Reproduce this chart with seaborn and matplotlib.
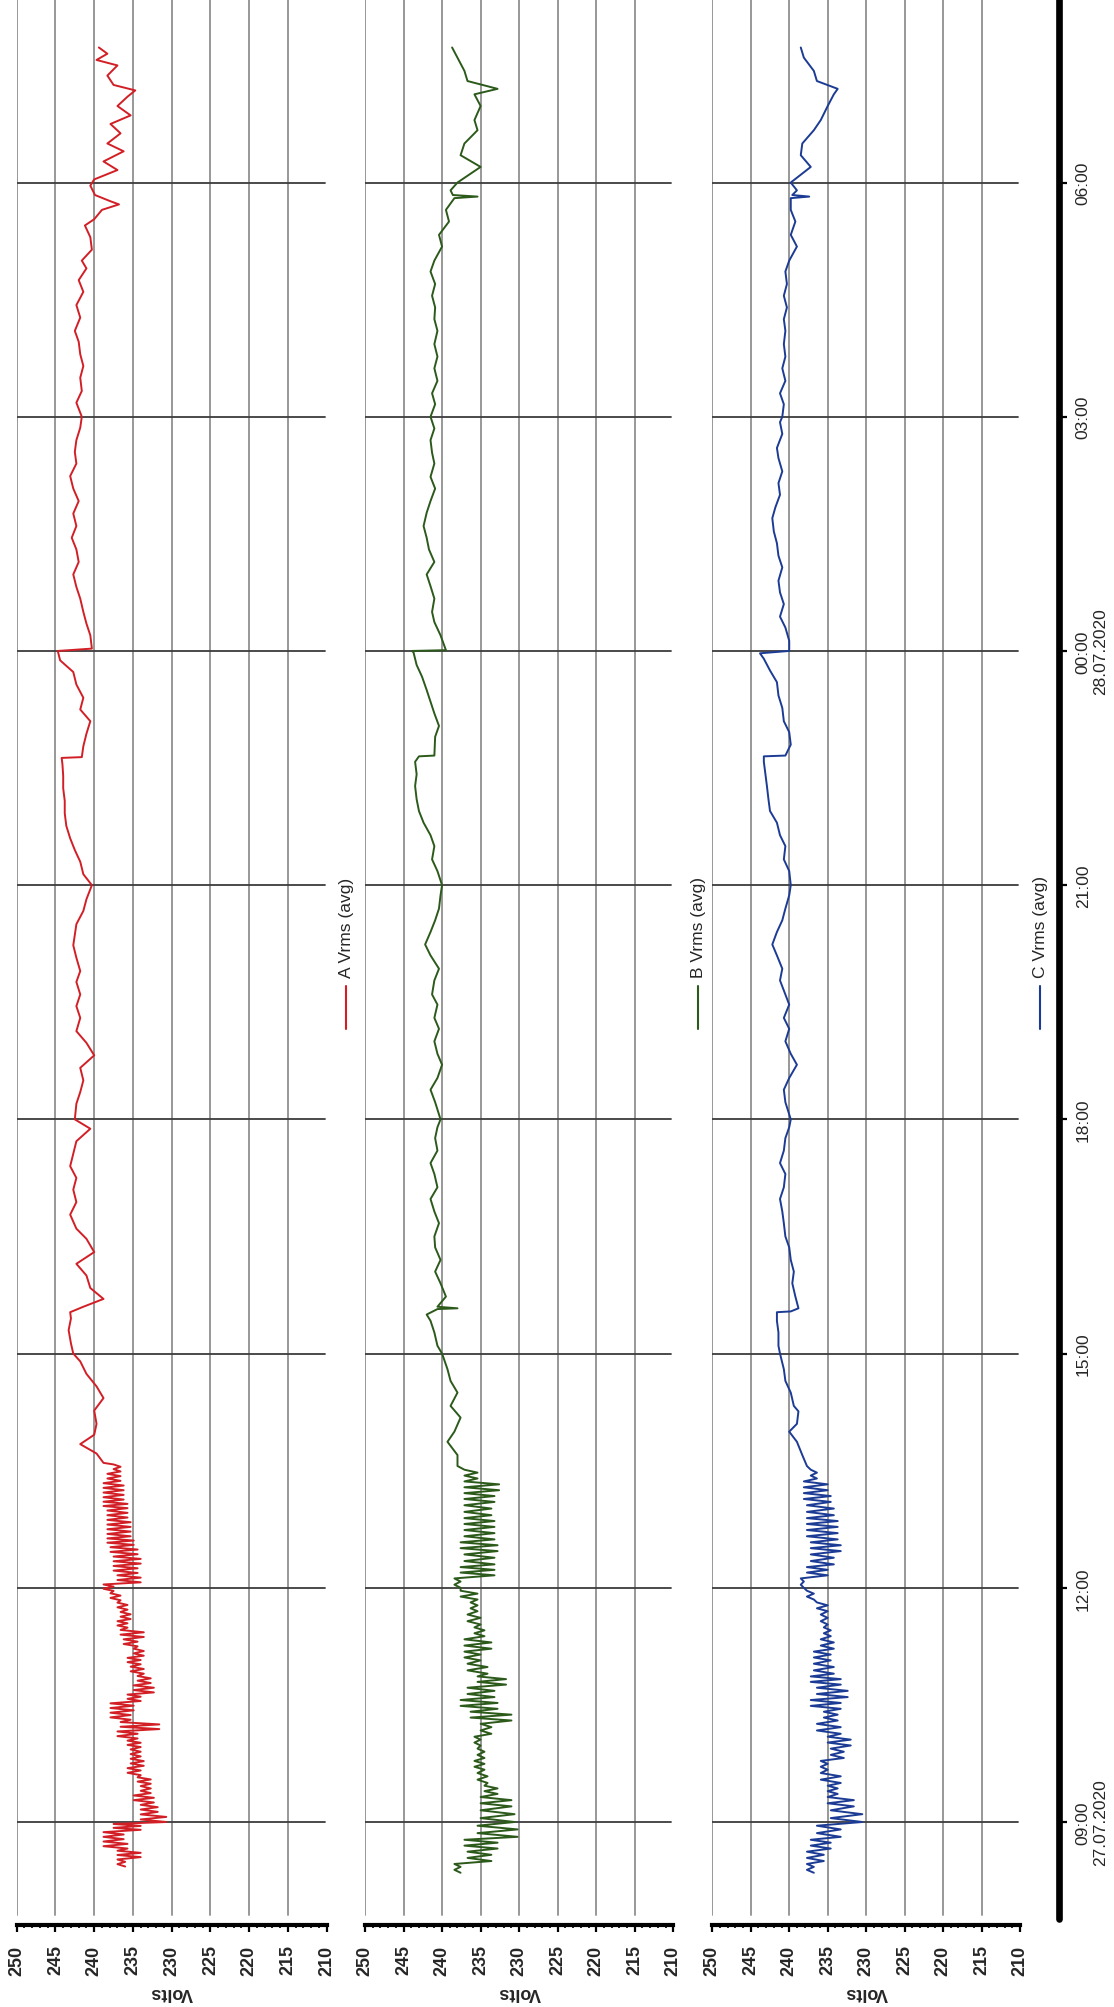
import matplotlib
matplotlib.use("Agg")
import matplotlib.pyplot as plt
import pandas as pd
import seaborn as sns
from matplotlib.lines import Line2D
from matplotlib.ticker import MultipleLocator

# ---------------- data (hours since 09:00 on 27.07.2020) ----------------
series_names = ["A Vrms (avg)", "B Vrms (avg)", "C Vrms (avg)"]
volt_ticks = [250, 245, 240, 235, 230, 225, 220, 215, 210]
time_ticks = [0, 3, 6, 9, 12, 15, 18, 21]
time_labels = ["09:00\n27.07.2020", "12:00", "15:00", "18:00", "21:00",
               "00:00\n28.07.2020", "03:00", "06:00"]

# noisy morning part: read as low / high envelope of the trace
a_band_hours = [-0.57, -0.45, -0.34, -0.22, -0.10, 0.00, 0.13, 0.25, 0.37, 0.49, 0.60,
                0.72, 0.84, 0.96, 1.07, 1.19, 1.31, 1.43, 1.55, 1.66, 1.78, 1.90, 2.02,
                2.13, 2.25, 2.37, 2.49, 2.60, 2.72, 2.84, 2.96, 3.07, 3.19, 3.31, 3.43,
                3.55, 3.66, 3.78, 3.90, 4.02, 4.13, 4.25, 4.37, 4.49]
a_band_low = [236.0, 234.0, 235.7, 236.2, 234.0, 230.7, 231.8, 232.3, 232.7, 232.7, 234.0,
              233.6, 234.0, 234.0, 234.4, 231.6, 235.3, 234.9, 234.0, 232.3, 232.7, 233.6,
              234.0, 233.6, 234.4, 233.6, 235.7, 235.3, 235.7, 236.6, 237.5, 234.0, 234.4,
              234.0, 234.4, 234.9, 235.3, 235.3, 235.7, 235.7, 236.2, 236.2, 236.6, 236.6]
a_band_high = [237.0, 237.0, 238.8, 238.8, 237.5, 234.0, 234.0, 234.9, 234.0, 234.4, 235.7,
               235.3, 235.3, 235.7, 237.0, 236.6, 237.9, 237.9, 235.7, 234.9, 234.4, 235.3,
               235.7, 234.9, 236.2, 236.6, 237.0, 236.6, 237.0, 237.9, 238.8, 237.0, 237.5,
               237.5, 237.9, 238.3, 238.3, 238.3, 238.3, 238.8, 238.8, 238.8, 238.3, 237.5]

bc_band_hours = [-0.65, -0.50, -0.34, -0.19, 0.00, 0.20, 0.36, 0.50, 0.67, 0.82, 0.98,
                 1.13, 1.30, 1.45, 1.60, 1.76, 1.90, 2.07, 2.22, 2.38, 2.53, 2.70, 2.85,
                 3.00, 3.16, 3.30, 3.47, 3.62, 3.78, 3.93, 4.10, 4.25, 4.40]
b_band_low = [237.6, 233.6, 232.8, 230.2, 230.6, 231.0, 232.8, 234.1, 234.5, 234.5, 235.0,
              233.6, 231.0, 232.8, 233.2, 231.7, 234.1, 235.0, 233.6, 234.5, 235.0, 235.4,
              235.4, 237.6, 233.2, 233.2, 232.8, 233.2, 233.2, 233.6, 233.2, 232.6, 235.4]
b_band_high = [238.4, 236.7, 237.1, 235.4, 235.0, 235.0, 234.5, 235.4, 235.8, 235.4, 235.8,
               235.0, 236.3, 237.6, 236.7, 235.4, 236.7, 237.1, 237.1, 235.8, 236.7, 236.3,
               237.6, 238.4, 237.6, 237.1, 237.6, 237.1, 237.1, 237.1, 237.1, 237.1, 237.1]
c_band_low = [236.8, 235.5, 234.6, 233.3, 230.5, 231.6, 233.7, 233.3, 235.0, 232.9, 232.0,
              233.3, 233.7, 233.3, 232.4, 233.3, 234.2, 234.6, 234.2, 234.6, 235.0, 235.0,
              236.8, 238.1, 235.0, 234.2, 233.3, 233.7, 233.7, 234.2, 234.6, 235.0, 236.4]
c_band_high = [237.7, 237.7, 237.2, 236.4, 234.6, 235.0, 235.0, 235.9, 235.9, 234.6, 235.0,
               236.4, 235.5, 237.2, 236.4, 237.2, 236.8, 236.8, 235.9, 235.5, 235.9, 236.4,
               237.7, 238.5, 237.7, 237.2, 237.2, 237.7, 237.7, 237.7, 238.1, 238.1, 237.2]

# calmer rest of the day
a_hours = [4.60, 4.72, 4.84, 4.96, 5.10, 5.27, 5.43, 5.58, 5.74, 5.90, 6.00, 6.13, 6.30, 6.45,
           6.53, 6.60, 6.70, 6.84, 7.00, 7.15, 7.30, 7.47, 7.60, 7.78, 7.94, 8.10, 8.25, 8.40,
           8.56, 8.72, 8.88, 9.00, 9.20, 9.35, 9.50, 9.66, 9.82, 9.98, 10.13, 10.30, 10.45,
           10.60, 10.76, 10.90, 11.07, 11.23, 11.50, 11.67, 11.82, 12.00, 12.14, 12.30, 12.45,
           12.60, 12.76, 12.92, 13.08, 13.24, 13.40, 13.55, 13.63, 13.64, 13.78, 13.94, 14.10,
           14.25, 14.40, 14.57, 14.73, 14.88, 15.00, 15.03, 15.20, 15.35, 15.50, 15.67, 15.82,
           15.98, 16.14, 16.30, 16.45, 16.60, 16.76, 16.92, 17.08, 17.24, 17.40, 17.55, 17.70,
           17.86, 18.00, 18.18, 18.33, 18.50, 18.65, 18.80, 18.96, 19.10, 19.27, 19.43, 19.60,
           19.75, 19.90, 20.00, 20.14, 20.30, 20.45, 20.53, 20.65, 20.72, 20.76, 20.84, 20.96,
           21.04, 21.16, 21.27, 21.40, 21.50, 21.63, 21.75, 21.86, 21.98, 22.10, 22.18, 22.25,
           22.37, 22.50, 22.57, 22.65, 22.73]
a_volts = [238.8, 239.7, 241.8, 240.0, 239.7, 240.0, 238.8, 239.7, 241.0, 241.8, 242.7, 243.0,
           243.3, 243.0, 243.1, 241.4, 238.8, 240.5, 241.0, 242.3, 240.0, 241.0, 242.3, 243.1,
           242.3, 242.7, 242.3, 243.1, 242.7, 242.3, 240.5, 242.5, 242.3, 241.8, 241.4, 241.8,
           240.0, 241.0, 242.3, 241.8, 242.3, 241.8, 242.3, 241.8, 242.3, 242.7, 242.3, 241.4,
           241.0, 240.3, 241.4, 241.8, 242.5, 243.1, 243.6, 243.8, 243.8, 244.0, 244.0, 244.1,
           244.2, 241.6, 241.4, 241.0, 240.5, 241.8, 241.4, 242.3, 242.7, 244.4, 244.7, 240.3,
           240.5, 241.0, 241.4, 241.8, 242.3, 242.7, 242.0, 242.3, 242.9, 242.3, 242.7, 242.0,
           242.7, 243.1, 242.3, 242.5, 242.3, 241.8, 241.6, 242.3, 241.6, 241.8, 241.4, 241.8,
           242.0, 242.5, 241.8, 242.3, 241.4, 242.0, 241.0, 241.6, 240.3, 240.5, 241.2, 240.0,
           239.0, 236.8, 237.9, 239.9, 240.5, 240.0, 237.0, 238.8, 236.2, 238.3, 236.6, 237.9,
           235.3, 237.0, 235.7, 234.7, 237.5, 238.3, 237.0, 239.7, 238.3, 239.4]

b_hours = [4.56, 4.70, 4.87, 5.00, 5.18, 5.33, 5.50, 5.65, 5.80, 6.00, 6.10, 6.27, 6.42, 6.50,
           6.57, 6.58, 6.60, 6.73, 6.90, 7.05, 7.20, 7.36, 7.50, 7.67, 7.82, 7.98, 8.13, 8.30,
           8.44, 8.60, 8.76, 8.90, 9.00, 9.22, 9.38, 9.53, 9.70, 9.84, 10.00, 10.16, 10.30,
           10.47, 10.60, 10.78, 10.93, 11.10, 11.24, 11.40, 11.55, 11.70, 11.87, 12.00, 12.18,
           12.33, 12.50, 12.64, 12.80, 12.95, 13.10, 13.27, 13.42, 13.58, 13.65, 13.66, 13.90,
           14.04, 14.20, 14.35, 14.50, 14.67, 14.82, 14.98, 15.00, 15.01, 15.20, 15.37, 15.50,
           15.67, 15.83, 15.98, 16.14, 16.30, 16.45, 16.60, 16.77, 16.92, 17.08, 17.23, 17.40,
           17.54, 17.70, 17.85, 18.00, 18.16, 18.30, 18.46, 18.62, 18.77, 18.93, 19.10, 19.25,
           19.40, 19.55, 19.70, 19.86, 20.00, 20.18, 20.33, 20.50, 20.65, 20.80, 20.82, 20.84,
           20.90, 21.00, 21.20, 21.35, 21.50, 21.67, 21.80, 21.98, 22.13, 22.20, 22.30, 22.43,
           22.60, 22.73]
b_volts = [238.0, 238.0, 239.3, 238.4, 237.6, 238.9, 238.0, 238.9, 239.3, 240.0, 240.6, 241.0,
           241.5, 242.0, 240.6, 238.0, 240.6, 239.5, 240.2, 240.9, 240.2, 240.9, 241.0, 240.4,
           241.0, 241.5, 240.6, 241.0, 241.5, 240.6, 240.9, 240.6, 240.2, 240.9, 241.5, 240.6,
           240.0, 240.6, 241.0, 240.4, 241.0, 240.6, 241.3, 241.0, 240.4, 241.5, 242.2, 241.5,
           240.9, 240.4, 240.2, 240.0, 240.6, 241.3, 241.0, 241.5, 242.4, 243.0, 243.3, 243.5,
           243.3, 243.5, 243.0, 241.0, 240.9, 240.4, 241.0, 241.5, 242.0, 242.6, 243.3, 243.7,
           243.9, 239.5, 240.2, 241.0, 241.3, 241.0, 241.5, 242.0, 241.0, 241.7, 242.0, 242.4,
           242.0, 241.5, 240.9, 241.5, 241.0, 241.3, 241.5, 241.0, 241.5, 240.9, 241.3, 240.6,
           241.0, 240.6, 241.0, 240.6, 241.0, 240.9, 241.3, 240.9, 241.5, 241.0, 240.0, 240.4,
           239.1, 239.5, 238.4, 235.4, 238.6, 238.9, 238.0, 235.0, 237.6, 237.1, 235.4, 235.8,
           235.0, 235.8, 232.8, 236.7, 237.1, 238.0, 238.7]

c_hours = [4.56, 4.70, 4.87, 5.00, 5.10, 5.26, 5.33, 5.50, 5.65, 5.80, 6.00, 6.10, 6.27, 6.42,
           6.53, 6.54, 6.58, 6.73, 6.90, 7.05, 7.20, 7.36, 7.50, 7.67, 7.82, 7.98, 8.13, 8.30,
           8.44, 8.60, 8.76, 8.90, 9.00, 9.22, 9.38, 9.53, 9.70, 9.84, 10.00, 10.16, 10.30,
           10.47, 10.60, 10.78, 10.93, 11.10, 11.24, 11.40, 11.55, 11.70, 11.87, 12.00, 12.18,
           12.33, 12.50, 12.64, 12.80, 12.95, 13.10, 13.27, 13.42, 13.58, 13.65, 13.66, 13.80,
           13.96, 14.10, 14.27, 14.43, 14.60, 14.75, 14.90, 14.97, 15.00, 15.13, 15.30, 15.44,
           15.60, 15.75, 15.90, 16.07, 16.22, 16.38, 16.53, 16.70, 16.84, 17.00, 17.15, 17.30,
           17.47, 17.60, 17.78, 17.93, 18.00, 18.16, 18.30, 18.46, 18.62, 18.77, 18.93, 19.10,
           19.25, 19.40, 19.55, 19.70, 19.86, 20.00, 20.18, 20.33, 20.50, 20.65, 20.80, 20.82,
           20.84, 20.90, 21.00, 21.20, 21.35, 21.50, 21.67, 21.80, 21.98, 22.13, 22.20, 22.30,
           22.43, 22.60, 22.73]
c_volts = [237.7, 238.3, 239.0, 240.0, 239.0, 238.8, 239.4, 239.8, 240.5, 240.7, 241.2, 241.4,
           241.4, 241.6, 241.6, 239.8, 238.8, 239.2, 239.6, 239.4, 239.8, 240.0, 240.5, 240.7,
           240.9, 241.2, 240.7, 240.5, 241.2, 240.7, 240.5, 240.0, 239.8, 240.5, 240.7, 240.0,
           239.0, 239.8, 240.5, 240.0, 240.7, 240.0, 240.5, 241.2, 240.9, 241.6, 242.2, 241.6,
           240.9, 240.5, 240.0, 239.8, 240.0, 240.7, 240.5, 241.2, 241.6, 242.5, 242.7, 242.9,
           243.1, 243.3, 243.3, 240.5, 239.8, 240.0, 240.7, 240.9, 241.4, 241.6, 242.5, 243.3,
           243.8, 240.0, 240.0, 240.5, 241.2, 240.7, 241.2, 241.4, 240.9, 241.4, 241.6, 242.0,
           242.2, 241.8, 241.2, 241.4, 240.9, 241.4, 241.6, 240.9, 241.2, 240.9, 240.7, 241.2,
           240.5, 240.9, 240.5, 240.7, 240.5, 240.7, 240.3, 240.7, 240.3, 240.5, 240.0, 239.0,
           239.8, 239.2, 239.8, 239.8, 237.4, 239.6, 239.0, 239.8, 237.2, 238.5, 238.3, 236.8,
           235.9, 235.0, 234.2, 233.7, 236.4, 236.8, 238.1, 238.5]

colors = ["#d21f26", "#2c5a1b", "#1c3b94"]


def zigzag(hours, low, high, reps=2):
    """Trace alternating between the read low and high envelope values."""
    t, v = [], []
    for i, h in enumerate(hours):
        dt = (hours[i + 1] - h) if i + 1 < len(hours) else (h - hours[i - 1])
        seq = [low[i], high[i]] * reps
        for k, val in enumerate(seq):
            t.append(h + k * dt / len(seq))
            v.append(val)
    return t, v


frames = []
for name, bh, bl, bhi, hh, vv in [
    (series_names[0], a_band_hours, a_band_low, a_band_high, a_hours, a_volts),
    (series_names[1], bc_band_hours, b_band_low, b_band_high, b_hours, b_volts),
    (series_names[2], bc_band_hours, c_band_low, c_band_high, c_hours, c_volts),
]:
    t, v = zigzag(bh, bl, bhi)
    frames.append(pd.DataFrame({"hours": t + hh, "volts": v + vv, "series": name}))

# ---------------- layout ----------------
W, H = 1114, 2008
sns.set_theme(style="white")
plt.rcParams["font.family"] = ["Liberation Sans", "DejaVu Sans"]

fig = plt.figure(figsize=(W / 100, H / 100), dpi=100)
fig.patch.set_facecolor("white")

Y09_PX = 1823.0       # pixel row of 09:00
PX_PER_H = 78.07
AX_BOTTOM = 1926.0
panels_px = [(16.7, 326.7), (365.0, 673.3), (712.3, 1020.0)]
legend_x = [346, 698, 1040]


def fx(p):
    return p / W


def fy(p):
    return 1 - p / H


for i, ((l, r), df) in enumerate(zip(panels_px, frames)):
    ax = fig.add_axes([fx(l), fy(AX_BOTTOM), fx(r - l), AX_BOTTOM / H])
    ax.set_facecolor("white")
    ax.set_xlim(250, 210)
    ax.set_ylim((Y09_PX - AX_BOTTOM) / PX_PER_H, Y09_PX / PX_PER_H)
    for v in volt_ticks[:-1]:
        ax.axvline(v, color="#989898", lw=1.4, ymin=0.005, zorder=1)
    for h in time_ticks:
        ax.axhline(h, color="#3c3c3c", lw=1.3, xmax=0.994, zorder=1)
    sns.lineplot(data=df, x="volts", y="hours", sort=False, estimator=None,
                 orient="y", color=colors[i], lw=1.4, ax=ax, legend=False, zorder=3)
    for s in ["top", "right", "left"]:
        ax.spines[s].set_visible(False)
    ax.spines["bottom"].set_linewidth(3.0)
    ax.spines["bottom"].set_color("black")
    ax.set_xticks(volt_ticks)
    ax.xaxis.set_minor_locator(MultipleLocator(1))
    ax.tick_params(axis="x", which="major", direction="out", length=5, width=1.6,
                   color="black", pad=9, labelsize=13, labelrotation=90,
                   bottom=True)
    ax.tick_params(axis="x", which="minor", direction="out", length=2.5, width=1.2,
                   color="black", bottom=True)
    for lab in ax.get_xticklabels():
        lab.set_fontweight("bold")
    ax.set_yticks([])
    ax.set_xlabel("")
    ax.set_ylabel("")
    fig.text(fx((l + r) / 2), fy(1993), "Volts", rotation=180, ha="center",
             va="center", fontsize=13, fontweight="bold")
    # legend entry (rotated with the page)
    lx = legend_x[i]
    fig.add_artist(Line2D([fx(lx), fx(lx)], [fy(1030), fy(987)], color=colors[i],
                          lw=1.5, transform=fig.transFigure))
    fig.text(fx(lx), fy(978), series_names[i], rotation=90, ha="center", va="bottom",
             fontsize=12.5)

# time axis on the right
T_BOTTOM = 1920.0
SPINE_X = 1059.0
ax_t = fig.add_axes([fx(SPINE_X) - 0.01, fy(T_BOTTOM), 0.01, T_BOTTOM / H])
ax_t.set_ylim((Y09_PX - T_BOTTOM) / PX_PER_H, Y09_PX / PX_PER_H)
ax_t.patch.set_alpha(0)
for s in ["top", "left", "bottom"]:
    ax_t.spines[s].set_visible(False)
ax_t.spines["right"].set_linewidth(4.8)
ax_t.spines["right"].set_color("black")
ax_t.spines["right"].set_capstyle("round")
ax_t.set_xticks([])
ax_t.yaxis.tick_right()
ax_t.set_yticks(time_ticks)
ax_t.set_yticklabels(time_labels)
ax_t.yaxis.set_minor_locator(MultipleLocator(1))
ax_t.tick_params(axis="y", which="major", direction="out", length=6, width=1.6,
                 color="black", pad=6, labelsize=12.5, right=True)
ax_t.tick_params(axis="y", which="minor", direction="out", length=2.5, width=1.2,
                 color="black", right=True)
for lab in ax_t.get_yticklabels():
    lab.set_rotation(90)
    lab.set_ha("left")
    lab.set_va("center")
    lab.set_multialignment("center")

fig.savefig("out.png", dpi=100, facecolor="white")
